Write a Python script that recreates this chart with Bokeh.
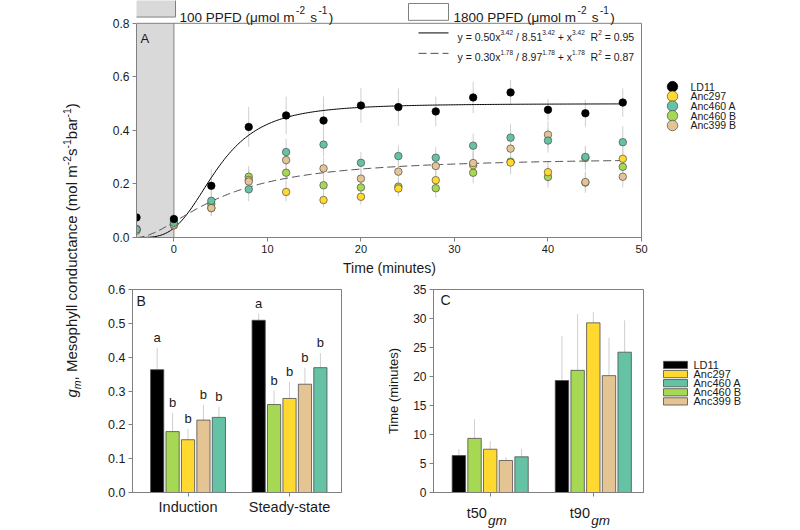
import numpy as np
from bokeh.plotting import figure
from bokeh.models import Range1d, FixedTicker, PrintfTickFormatter, LinearAxis
from bokeh.layouts import row, column
from bokeh.embed import file_html
from bokeh.resources import INLINE
from bokeh.core.properties import value

FONT = "Liberation Sans"
TXT = "#1a1a1a"
AXC = "#808080"
ERRC = "#cfcfcf"
EDGE = "#4d4d4d"

# ---------------- data ----------------
genotypes = ["LD11", "Anc297", "Anc460 A", "Anc460 B", "Anc399 B"]
geno_colors = ["#000000", "#ffd92f", "#66c2a5", "#a6d854", "#e5c494"]
COL = dict(zip(genotypes, geno_colors))

# Panel A: time course of gm
time_min = [-4, 0, 4, 8, 12, 16, 20, 24, 28, 32, 36, 40, 44, 48]
gm_LD11 = [0.075, 0.069, 0.193, 0.413, 0.456, 0.437, 0.493, 0.487, 0.471, 0.523, 0.542, 0.477, 0.464, 0.504]
gm_Anc297 = [0.025, 0.045, 0.110, 0.215, 0.170, 0.140, 0.152, 0.183, 0.214, 0.270, 0.280, 0.244, 0.205, 0.294]
gm_Anc460A = [0.030, 0.055, 0.137, 0.180, 0.319, 0.347, 0.279, 0.304, 0.298, 0.343, 0.373, 0.362, 0.301, 0.356]
gm_Anc460B = [0.030, 0.050, 0.125, 0.227, 0.242, 0.195, 0.187, 0.190, 0.184, 0.242, 0.283, 0.226, 0.297, 0.264]
gm_Anc399B = [0.032, 0.048, 0.110, 0.209, 0.289, 0.258, 0.220, 0.246, 0.267, 0.278, 0.332, 0.384, 0.207, 0.227]
se_LD11 = [0.010, 0.010, 0.060, 0.075, 0.070, 0.090, 0.065, 0.070, 0.055, 0.059, 0.046, 0.040, 0.050, 0.053]
se_Anc297 = [0.008, 0.010, 0.030, 0.040, 0.035, 0.028, 0.030, 0.030, 0.035, 0.045, 0.045, 0.040, 0.035, 0.045]
se_Anc460A = [0.008, 0.012, 0.035, 0.045, 0.050, 0.045, 0.040, 0.040, 0.040, 0.045, 0.050, 0.045, 0.040, 0.060]
se_Anc460B = [0.008, 0.010, 0.030, 0.040, 0.040, 0.035, 0.035, 0.030, 0.035, 0.040, 0.040, 0.040, 0.045, 0.045]
se_Anc399B = [0.008, 0.010, 0.030, 0.045, 0.045, 0.040, 0.035, 0.040, 0.040, 0.045, 0.050, 0.050, 0.040, 0.040]

# fitted curves (parameters printed on the chart); t measured from start of record (-4 min)
fit1_a, fit1_k, fit1_n, fit1_r2 = 0.50, 8.51, 3.42, 0.95
fit2_a, fit2_k, fit2_n, fit2_r2 = 0.30, 8.97, 1.78, 0.87

# Panel B & C: bars, drawn in this order within each group
bar_order = ["LD11", "Anc460 B", "Anc297", "Anc399 B", "Anc460 A"]
B_groups = ["Induction", "Steady-state"]
B_induction = [0.363, 0.180, 0.156, 0.214, 0.222]
B_induction_err = [0.065, 0.055, 0.032, 0.045, 0.032]
B_steady = [0.509, 0.260, 0.278, 0.320, 0.369]
B_steady_err = [0.020, 0.041, 0.049, 0.049, 0.043]
B_letters_induction = ["a", "b", "b", "b", "b"]
B_letters_steady = ["a", "b", "b", "b", "b"]

C_groups = ["t50", "t90"]
C_sub = "gm"
C_t50 = [6.37, 9.33, 7.46, 5.52, 6.15]
C_t50_err = [1.10, 3.30, 1.40, 0.60, 1.35]
C_t90 = [19.30, 21.06, 29.25, 20.15, 24.19]
C_t90_err = [7.70, 9.70, 1.85, 6.55, 5.50]

# ---------------- helpers ----------------
W = {' ': 278, '(': 333, ')': 333, '+': 584, ',': 278, '-': 333, '.': 278, '/': 278, '=': 584,
     'A': 667, 'B': 667, 'C': 722, 'D': 722, 'F': 611, 'M': 833, 'P': 667, 'R': 722, 'T': 611,
     'a': 556, 'b': 556, 'c': 500, 'd': 556, 'e': 556, 'g': 556, 'h': 556, 'i': 222, 'l': 222,
     'm': 833, 'n': 556, 'o': 556, 'p': 556, 'r': 333, 's': 500, 't': 278, 'u': 556, 'x': 500,
     'y': 500, 'μ': 577}


def tw(s, size):
    return sum(W.get(ch, 556) for ch in s) * size / 1000.0


def txt(p, x, y, t, size, style="normal", align="left", baseline="alphabetic", angle=0.0, color=TXT):
    p.text(x=[x], y=[y], text=[t], text_font=value(FONT), text_font_size=value(f"{size}px"),
           text_font_style=value(style), text_align=align, text_baseline=baseline,
           angle=angle, text_color=color)


def style_axes(p, tick_size):
    p.grid.visible = False
    for a in p.axis:
        a.axis_line_color = AXC
        a.major_tick_line_color = AXC
        a.minor_tick_line_color = None
        a.major_tick_in = 0
        a.major_tick_out = 4
        a.major_label_standoff = 3
        a.major_label_text_font = FONT
        a.major_label_text_font_size = tick_size
        a.major_label_text_color = TXT
        a.axis_label_text_font = FONT
        a.axis_label_text_font_style = "normal"
        a.axis_label_text_color = TXT


def pieces_h(p, pieces, cx0, cy_base, fx, fy, gap=0.0):
    """Lay out text runs (text, size, style, raise_px) left to right in pixel space."""
    cur = cx0
    for (t, size, style, shift) in pieces:
        s = t.lstrip(' ')
        cur += tw(t[:len(t) - len(s)], size)
        txt(p, fx(cur), fy(cy_base - shift), s, size, style)
        cur += tw(s, size) + gap


# ---------------- panel A ----------------
A_LEFT, A_BOTTOM = 136.0, 239.0          # frame position (page px)
PXX, PXY = 505.0 / 54.0, 270.0


def ax(cx):
    return -4 + (cx - A_LEFT) / PXX


def ay(cy):
    return (A_BOTTOM - cy) / PXY


pA = figure(width=554, height=278, x_range=Range1d(-4, 50 + 1.0 / PXX), y_range=Range1d(0, ay(0)),
            output_backend="svg", toolbar_location=None, min_border_left=40, min_border_right=8,
            min_border_top=0, min_border_bottom=39, outline_line_color=None)
style_axes(pA, "11px")
pA.yaxis.major_label_text_font_size = "12px"
pA.xaxis.ticker = FixedTicker(ticks=[0, 10, 20, 30, 40, 50])
pA.xaxis.bounds = (-4, 50)
pA.xaxis.axis_label = "Time (minutes)"
pA.xaxis.axis_label_text_font_size = "14px"
pA.xaxis.axis_label_standoff = 4
pA.yaxis.ticker = FixedTicker(ticks=[0, 0.2, 0.4, 0.6, 0.8])
pA.yaxis.bounds = (0, 0.8)
pA.yaxis.formatter = PrintfTickFormatter(format="%.1f")

# low-light period
pA.quad(left=[-4], right=[0], bottom=[0], top=[0.8], fill_color="#d9d9d9", line_color=None)
pA.segment(x0=[0], y0=[0], x1=[0], y1=[0.8], line_color=AXC, line_width=1)
# top and right spines
pA.segment(x0=[-4, 50], y0=[0.8, 0], x1=[50, 50], y1=[0.8, 0.8], line_color=AXC, line_width=1)

series = {"LD11": (gm_LD11, se_LD11), "Anc297": (gm_Anc297, se_Anc297),
          "Anc460 A": (gm_Anc460A, se_Anc460A), "Anc460 B": (gm_Anc460B, se_Anc460B),
          "Anc399 B": (gm_Anc399B, se_Anc399B)}
draw_order = ["Anc460 B", "Anc297", "Anc399 B", "Anc460 A", "LD11"]

for g in draw_order:
    v, e = np.array(series[g][0]), np.array(series[g][1])
    pA.segment(x0=time_min, y0=v - e, x1=time_min, y1=v + e, line_color=ERRC, line_width=1)

t_fit = np.linspace(0, 52, 300)
x_fit = t_fit - 4
y_fit1 = fit1_a * t_fit ** fit1_n / (fit1_k ** fit1_n + t_fit ** fit1_n)
y_fit2 = fit2_a * t_fit ** fit2_n / (fit2_k ** fit2_n + t_fit ** fit2_n)
pA.line(x_fit, y_fit1, line_color="#000000", line_width=1)
pA.line(x_fit, y_fit2, line_color="#4d4d4d", line_width=1, line_dash="8 4")

for g in draw_order:
    pA.scatter(time_min, series[g][0], size=7.5, marker="circle", fill_color=COL[g],
               line_color="#000000" if g == "LD11" else EDGE, line_width=0.7)

txt(pA, ax(140), ay(38), "A", 13)

# header (light levels)
pA.quad(left=[ax(135)], right=[ax(175)], bottom=[ay(16.7)], top=[ay(-2)],
        fill_color="#d9d9d9", line_color=AXC, line_width=1)
pA.quad(left=[ax(408)], right=[ax(448)], bottom=[ay(20)], top=[ay(3)],
        fill_color="white", line_color=AXC, line_width=1)


def ppfd_pieces(level):
    return [(f"{level} PPFD (μmol m", 13.5, "normal", 0), ("-2", 10, "normal", 7),
            (" s", 13.5, "normal", 0), ("-1", 10, "normal", 7), (")", 13.5, "normal", 0)]


pieces_h(pA, ppfd_pieces(100), 179, 17, ax, ay, gap=1.5)
pieces_h(pA, ppfd_pieces(1800), 453, 17, ax, ay, gap=1.5)

# fit legend
pA.line([ax(418), ax(448)], [ay(32.7), ay(32.7)], line_color="#000000", line_width=1)
pA.line([ax(418), ax(448)], [ay(53.3), ay(53.3)], line_color="#4d4d4d", line_width=1, line_dash="8 4")


def fit_pieces(a, k, n, r2):
    sn = f"{n:.2f}"
    return [(f"y = {a:.2f}x", 10.5, "normal", 0), (sn, 6.5, "normal", 4),
            (f" / {k:.2f}", 10.5, "normal", 0), (sn, 6.5, "normal", 4),
            (" + x", 10.5, "normal", 0), (sn, 6.5, "normal", 4),
            ("  R", 10.5, "normal", 0), ("2", 6.5, "normal", 4),
            (f" = {r2:.2f}", 10.5, "normal", 0)]


pieces_h(pA, fit_pieces(fit1_a, fit1_k, fit1_n, fit1_r2), 457, 36.5, ax, ay)
pieces_h(pA, fit_pieces(fit2_a, fit2_k, fit2_n, fit2_r2), 457, 56.5, ax, ay)

# legend for panel A (separate canvas to the right, pixel coordinates)
pLA = figure(width=150, height=278, x_range=Range1d(0, 150), y_range=Range1d(0, 278),
             output_backend="svg", toolbar_location=None, min_border=0, outline_line_color=None,
             x_axis_type=None, y_axis_type=None)
pLA.grid.visible = False
for i, g in enumerate(genotypes):
    yy = 278 - (101 + i * 11.4)
    pLA.scatter([22], [yy], size=10.5, marker="circle", fill_color=COL[g],
                line_color="#000000" if g == "LD11" else EDGE, line_width=0.7)
    txt(pLA, 40, yy, g, 10.5, baseline="middle")

# ---------------- panel B ----------------
B_LEFT, B_BOTTOM = 132.0, 494.0
B_PXX, B_PXY = 101.5, 206.0 / 0.6
BAR_W, BAR_STEP = 0.13, 0.152


def bx(cx):
    return 0.453 + (cx - B_LEFT) / B_PXX


def by(cy):
    return (B_BOTTOM - cy) / B_PXY


pB = figure(width=264, height=252, x_range=Range1d(0.453, 0.453 + 209 / B_PXX), y_range=Range1d(0, 0.6),
            output_backend="svg", toolbar_location=None, min_border_left=36, min_border_right=19,
            min_border_top=10, min_border_bottom=36, outline_line_color=AXC)
style_axes(pB, "12.5px")
pB.yaxis.ticker = FixedTicker(ticks=[0, 0.1, 0.2, 0.3, 0.4, 0.5, 0.6])
pB.yaxis.formatter = PrintfTickFormatter(format="%.1f")
pB.xaxis.ticker = FixedTicker(ticks=[1, 2])
pB.xaxis.major_label_overrides = {1: B_groups[0], 2: B_groups[1]}
pB.xaxis.major_label_text_font_size = "14.5px"
pB.xaxis.major_label_standoff = 2

for gi, (vals, errs, letters) in enumerate([(B_induction, B_induction_err, B_letters_induction),
                                             (B_steady, B_steady_err, B_letters_steady)]):
    xs = [gi + 1 + (i - 2) * BAR_STEP for i in range(5)]
    tops = [v + e for v, e in zip(vals, errs)]
    pB.segment(x0=xs, y0=vals, x1=xs, y1=tops, line_color=ERRC, line_width=1)
    pB.vbar(x=xs, top=vals, width=BAR_W, bottom=0, fill_color=[COL[g] for g in bar_order],
            line_color=EDGE, line_width=0.8)
    pB.text(x=xs, y=[t + 3 / B_PXY for t in tops], text=letters, text_font=value(FONT),
            text_font_size=value("13px"), text_align="center", text_baseline="bottom", text_color=TXT)

txt(pB, bx(136), by(300), "B", 14)

# ---------------- panel C ----------------
C_LEFT, C_BOTTOM = 433.0, 494.0
C_PXX, C_PXY = 103.1, 205.0 / 35.0


def cxf(cx):
    return 0.45 + (cx - C_LEFT) / C_PXX


def cyf(cy):
    return (C_BOTTOM - cy) / C_PXY


pC = figure(width=290, height=252, x_range=Range1d(0.45, 0.45 + 210 / C_PXX), y_range=Range1d(0, 35),
            output_backend="svg", toolbar_location=None, min_border_left=73, min_border_right=7,
            min_border_top=11, min_border_bottom=36, outline_line_color=AXC)
style_axes(pC, "12px")
pC.yaxis.ticker = FixedTicker(ticks=[0, 5, 10, 15, 20, 25, 30, 35])
pC.yaxis.axis_label = "Time (minutes)"
pC.yaxis.axis_label_text_font_size = "13px"
pC.yaxis.axis_label_standoff = 9

# group labels "t50"/"t90" with italic subscript "gm": two label rows;
# small tick marks at the group centres come from minor ticks
D_MAIN, D_SUB = 0.13, 0.07
main_ticks = [1 - D_MAIN, 2 - D_MAIN]
sub_ticks = [1 + D_SUB, 2 + D_SUB]
pC.xaxis.ticker = FixedTicker(ticks=main_ticks, minor_ticks=[1, 2])
pC.xaxis.major_label_overrides = {main_ticks[0]: C_groups[0], main_ticks[1]: C_groups[1]}
pC.xaxis.major_label_text_font_size = "14.5px"
pC.xaxis.major_tick_line_color = None
pC.xaxis.major_tick_out = 0
pC.xaxis.minor_tick_line_color = AXC
pC.xaxis.minor_tick_in = 0
pC.xaxis.minor_tick_out = 4
pC.xaxis.major_label_standoff = 8
sub_axis = LinearAxis(ticker=FixedTicker(ticks=sub_ticks),
                      major_label_overrides={sub_ticks[0]: C_sub, sub_ticks[1]: C_sub},
                      axis_line_color=None, major_tick_line_color=None, minor_tick_line_color=None,
                      major_tick_in=0, major_tick_out=0, major_label_standoff=-11,
                      major_label_text_font=FONT, major_label_text_font_size="13.5px",
                      major_label_text_font_style="italic", major_label_text_color=TXT)
pC.add_layout(sub_axis, "below")

for gi, (vals, errs) in enumerate([(C_t50, C_t50_err), (C_t90, C_t90_err)]):
    xs = [gi + 1 + (i - 2) * BAR_STEP for i in range(5)]
    tops = [v + e for v, e in zip(vals, errs)]
    pC.segment(x0=xs, y0=vals, x1=xs, y1=tops, line_color=ERRC, line_width=1)
    pC.vbar(x=xs, top=vals, width=BAR_W, bottom=0, fill_color=[COL[g] for g in bar_order],
            line_color=EDGE, line_width=0.8)

txt(pC, cxf(440), cyf(300), "C", 14)

# ---------------- legend for bars ----------------
pLC = figure(width=150, height=252, x_range=Range1d(0, 150), y_range=Range1d(0, 252),
             output_backend="svg", toolbar_location=None, min_border=0, outline_line_color=None,
             x_axis_type=None, y_axis_type=None)
pLC.grid.visible = False
for i, g in enumerate(genotypes):
    yy = 530 - (371.7 + i * 11.3)
    pLC.rect([25], [yy], width=24, height=9, fill_color=COL[g], line_color=EDGE, line_width=0.8)
    txt(pLC, 43, yy, g, 11, baseline="middle")

# ---------------- shared y label (rotated, read bottom to top) ----------------
pY = figure(width=96, height=530, x_range=Range1d(0, 96), y_range=Range1d(0, 530),
            output_backend="svg", toolbar_location=None, min_border=0, outline_line_color=None,
            x_axis_type=None, y_axis_type=None)
pY.grid.visible = False
ylab = [("g", 15, "italic", 0), ("m", 10.5, "italic", -3.5),
        (", Mesophyll conductance (mol m", 15, "normal", 0), ("-2", 10.5, "normal", 6),
        ("s", 15, "normal", 0), ("-1", 10.5, "normal", 6), ("bar", 15, "normal", 0),
        ("-1", 10.5, "normal", 6), (")", 15, "normal", 0)]
MID = 0.3465          # centre of text box above baseline, in em
X_CENTER = 71.0       # page x of the centre of the main text
main_mid = MID * 15
cur = 530 - 397.0
for (t, size, style, shift) in ylab:
    rel = shift + MID * size - main_mid
    txt(pY, X_CENTER - rel, cur, t, size, style, baseline="middle", angle=np.pi / 2)
    cur += tw(t, size)

layout = row(pY, column(row(pA, pLA), row(pB, pC, pLC)))
with open("out.html", "w") as f:
    f.write(file_html(layout, INLINE, title="gm induction"))
